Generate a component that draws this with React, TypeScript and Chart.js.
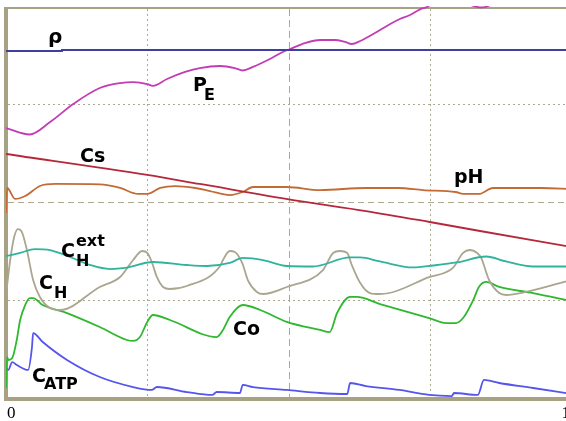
import React, { useEffect, useRef } from 'react';
import { Chart, registerables } from 'chart.js';

Chart.register(...registerables);

// ---- data (x: 0..1 time, y: 0..4 arbitrary units) ----
const rhoX = [0, 0.099, 0.099, 1];
const rhoY = [3.541, 3.541, 3.551, 3.551];

const peX = [0, 0.042, 0.078, 0.119, 0.166, 0.202, 0.225, 0.25, 0.26, 0.285, 0.317, 0.343, 0.379, 0.405, 0.419, 0.437, 0.467, 0.49, 0.503, 0.529, 0.556, 0.582, 0.6, 0.612, 0.627, 0.653, 0.68, 0.697, 0.715, 0.733, 0.745, 0.775, 0.842, 0.9, 1.0];
const peY = [2.755, 2.689, 2.816, 3.0, 3.163, 3.214, 3.224, 3.204, 3.184, 3.255, 3.327, 3.367, 3.388, 3.367, 3.342, 3.378, 3.459, 3.531, 3.561, 3.622, 3.653, 3.653, 3.633, 3.612, 3.643, 3.724, 3.816, 3.867, 3.908, 3.966, 3.99, 4.1, 3.985, 4.15, 4.3];

const csX = [0, 0.25, 0.343, 0.508, 0.637, 0.75, 0.839, 1];
const csY = [2.49, 2.276, 2.184, 2.02, 1.908, 1.796, 1.704, 1.541];

const phX = [0, 0.002, 0.016, 0.034, 0.06, 0.087, 0.166, 0.202, 0.234, 0.25, 0.273, 0.299, 0.335, 0.361, 0.396, 0.419, 0.437, 0.497, 0.556, 0.637, 0.694, 0.738, 0.796, 0.809, 0.837, 0.862, 0.947, 1];
const phY = [1.888, 2.143, 2.031, 2.061, 2.163, 2.184, 2.179, 2.143, 2.082, 2.082, 2.143, 2.163, 2.143, 2.112, 2.071, 2.102, 2.153, 2.153, 2.122, 2.143, 2.143, 2.122, 2.102, 2.082, 2.082, 2.143, 2.143, 2.133];

const chExtX = [0, 0.025, 0.051, 0.078, 0.113, 0.149, 0.184, 0.211, 0.26, 0.32, 0.356, 0.396, 0.419, 0.455, 0.497, 0.543, 0.609, 0.627, 0.662, 0.72, 0.756, 0.798, 0.85, 0.885, 0.933, 1];
const chExtY = [1.449, 1.48, 1.52, 1.51, 1.439, 1.357, 1.316, 1.327, 1.388, 1.357, 1.347, 1.378, 1.429, 1.408, 1.347, 1.342, 1.434, 1.434, 1.393, 1.332, 1.352, 1.383, 1.444, 1.393, 1.342, 1.342];

const chX = [0, 0.007, 0.014, 0.021, 0.028, 0.037, 0.048, 0.06, 0.078, 0.096, 0.166, 0.202, 0.225, 0.241, 0.25, 0.258, 0.267, 0.278, 0.29, 0.32, 0.379, 0.384, 0.396, 0.405, 0.418, 0.428, 0.444, 0.455, 0.497, 0.561, 0.579, 0.591, 0.604, 0.612, 0.627, 0.644, 0.662, 0.75, 0.791, 0.809, 0.821, 0.834, 0.841, 0.855, 0.873, 0.885, 0.92, 1];
const chY = [1.051, 1.388, 1.633, 1.724, 1.694, 1.51, 1.204, 1.031, 0.918, 0.898, 1.133, 1.235, 1.408, 1.5, 1.48, 1.388, 1.235, 1.133, 1.112, 1.143, 1.347, 1.408, 1.5, 1.49, 1.378, 1.204, 1.082, 1.061, 1.133, 1.306, 1.48, 1.5, 1.48, 1.357, 1.173, 1.071, 1.061, 1.235, 1.327, 1.48, 1.51, 1.48, 1.429, 1.204, 1.071, 1.051, 1.082, 1.204];

const coX = [0, 0.002, 0.004, 0.011, 0.019, 0.025, 0.034, 0.042, 0.048, 0.065, 0.108, 0.166, 0.214, 0.225, 0.237, 0.25, 0.26, 0.29, 0.373, 0.384, 0.396, 0.419, 0.45, 0.497, 0.556, 0.573, 0.586, 0.609, 0.621, 0.662, 0.749, 0.779, 0.796, 0.809, 0.827, 0.837, 0.85, 0.873, 0.933, 1];
const coY = [0.102, 0.418, 0.388, 0.408, 0.592, 0.796, 0.949, 1.02, 1.02, 0.949, 0.867, 0.724, 0.592, 0.582, 0.622, 0.776, 0.847, 0.796, 0.622, 0.694, 0.827, 0.949, 0.898, 0.776, 0.694, 0.673, 0.867, 1.031, 1.031, 0.959, 0.816, 0.765, 0.765, 0.816, 1.0, 1.133, 1.184, 1.133, 1.071, 0.99];

const atpX = [0, 0.004, 0.011, 0.019, 0.039, 0.046, 0.048, 0.065, 0.108, 0.166, 0.225, 0.258, 0.267, 0.32, 0.365, 0.373, 0.414, 0.419, 0.437, 0.497, 0.556, 0.604, 0.609, 0.637, 0.696, 0.749, 0.789, 0.793, 0.835, 0.846, 0.873, 0.933, 1];
const atpY = [0.306, 0.286, 0.367, 0.337, 0.286, 0.52, 0.663, 0.571, 0.388, 0.214, 0.112, 0.082, 0.112, 0.061, 0.031, 0.061, 0.051, 0.133, 0.112, 0.082, 0.051, 0.041, 0.153, 0.122, 0.082, 0.031, 0.02, 0.051, 0.031, 0.184, 0.153, 0.102, 0.041];

const gridXValues = [0.25, 0.5, 0.75];
const gridYValues = [1, 2, 3];
const xTickValues = [0, 1];
const xTickLabels = ['0', '1'];

const W = 580;
const H = 421;
const FRAME = '#a6a283';
const GRID = '#aca98f';

function pts(xs: number[], ys: number[]) {
  return xs.map((x, i) => ({ x, y: ys[i] }));
}

const framePlugin = {
  id: 'frameGrid',
  beforeDatasetsDraw(chart: any) {
    const { ctx, chartArea: ca, scales } = chart;
    const xs = scales.x;
    const ys = scales.y;
    ctx.save();
    ctx.strokeStyle = GRID;
    ctx.lineWidth = 1;
    gridXValues.forEach((v) => {
      const px = Math.round(xs.getPixelForValue(v)) + 0.5;
      ctx.setLineDash(v === 0.5 ? [7, 4] : [2, 3]);
      ctx.beginPath();
      ctx.moveTo(px, ca.top + 3);
      ctx.lineTo(px, ca.bottom);
      ctx.stroke();
    });
    gridYValues.forEach((v) => {
      const py = Math.round(ys.getPixelForValue(v)) + 0.5;
      ctx.setLineDash(v === 2 ? [6, 4] : [2, 3]);
      ctx.beginPath();
      ctx.moveTo(ca.left + 2, py);
      ctx.lineTo(ca.right, py);
      ctx.stroke();
    });
    ctx.setLineDash([]);
    ctx.fillStyle = FRAME;
    ctx.fillRect(ca.left - 2, ca.top + 1, 4, ca.bottom - ca.top + 2);
    ctx.fillRect(ca.left - 2, ca.top + 1, W, 2);
    ctx.fillRect(ca.left - 2, ca.bottom - 1, W, 4);
    ctx.restore();
  },
  afterDatasetsDraw(chart: any) {
    const { ctx, scales } = chart;
    const xs = scales.x;
    ctx.save();
    ctx.fillStyle = '#000';
    const main = 'bold 19px "DejaVu Sans"';
    const sub = 'bold 16px "DejaVu Sans"';
    const t = (s: string, x: number, y: number, f: string) => {
      ctx.font = f;
      ctx.textAlign = 'left';
      ctx.textBaseline = 'alphabetic';
      ctx.fillText(s, x, y);
    };
    t('ρ', 48, 43, 'bold 20px "DejaVu Sans"');
    t('P', 193, 91, main);
    t('E', 204, 100, sub);
    t('Cs', 80, 162, main);
    t('pH', 454, 183, main);
    t('C', 61, 257, main);
    t('H', 76, 266, sub);
    t('ext', 76, 246, sub);
    t('C', 39, 289, main);
    t('H', 54, 298, sub);
    t('Co', 233, 335, main);
    t('C', 32, 382, main);
    t('ATP', 44, 389, sub);
    // x tick labels
    ctx.font = '17px "Liberation Serif"';
    ctx.textBaseline = 'alphabetic';
    xTickValues.forEach((v, i) => {
      const px = xs.getPixelForValue(v);
      ctx.textAlign = i === 0 ? 'left' : 'right';
      ctx.fillText(xTickLabels[i], i === 0 ? px + 1 : px - 1, 418);
    });
    ctx.restore();
  },
};

export default function App() {
  const ref = useRef<HTMLCanvasElement | null>(null);
  useEffect(() => {
    if (!ref.current) return;
    const mk = (label: string, xs: number[], ys: number[], color: string, mono = true, w = 1.8) => ({
      label,
      data: pts(xs, ys),
      borderColor: color,
      backgroundColor: color,
      borderWidth: w,
      pointRadius: 0,
      fill: false,
      tension: 0,
      cubicInterpolationMode: mono ? 'monotone' : 'default',
    });
    const chart = new Chart(ref.current, {
      type: 'line',
      data: {
        datasets: [
          mk('ρ', rhoX, rhoY, '#3f3fa0', false, 2),
          mk('PE', peX, peY, '#c23cb4'),
          mk('Cs', csX, csY, '#b5283c'),
          mk('pH', phX, phY, '#c46a35'),
          mk('CHext', chExtX, chExtY, '#2fb49c'),
          mk('CH', chX, chY, '#aaa690'),
          mk('Co', coX, coY, '#2eb82e'),
          mk('CATP', atpX, atpY, '#5555ee'),
        ] as any,
      },
      options: {
        animation: false,
        responsive: false,
        maintainAspectRatio: false,
        layout: { padding: { left: 6, top: 6, right: W - 571, bottom: H - 398 } },
        scales: {
          x: { type: 'linear', min: 0, max: 1, display: false },
          y: { type: 'linear', min: 0, max: 4, display: false },
        },
        plugins: { legend: { display: false }, tooltip: { enabled: false } },
        elements: { point: { radius: 0 } },
      } as any,
      plugins: [framePlugin],
    });
    return () => chart.destroy();
  }, []);
  return (
    <div style={{ position: 'fixed', left: 0, top: 0, width: 566, height: 421, overflow: 'hidden', background: '#fff' }}>
      <canvas ref={ref} width={W} height={H} style={{ display: 'block', width: W, height: H }} />
    </div>
  );
}
